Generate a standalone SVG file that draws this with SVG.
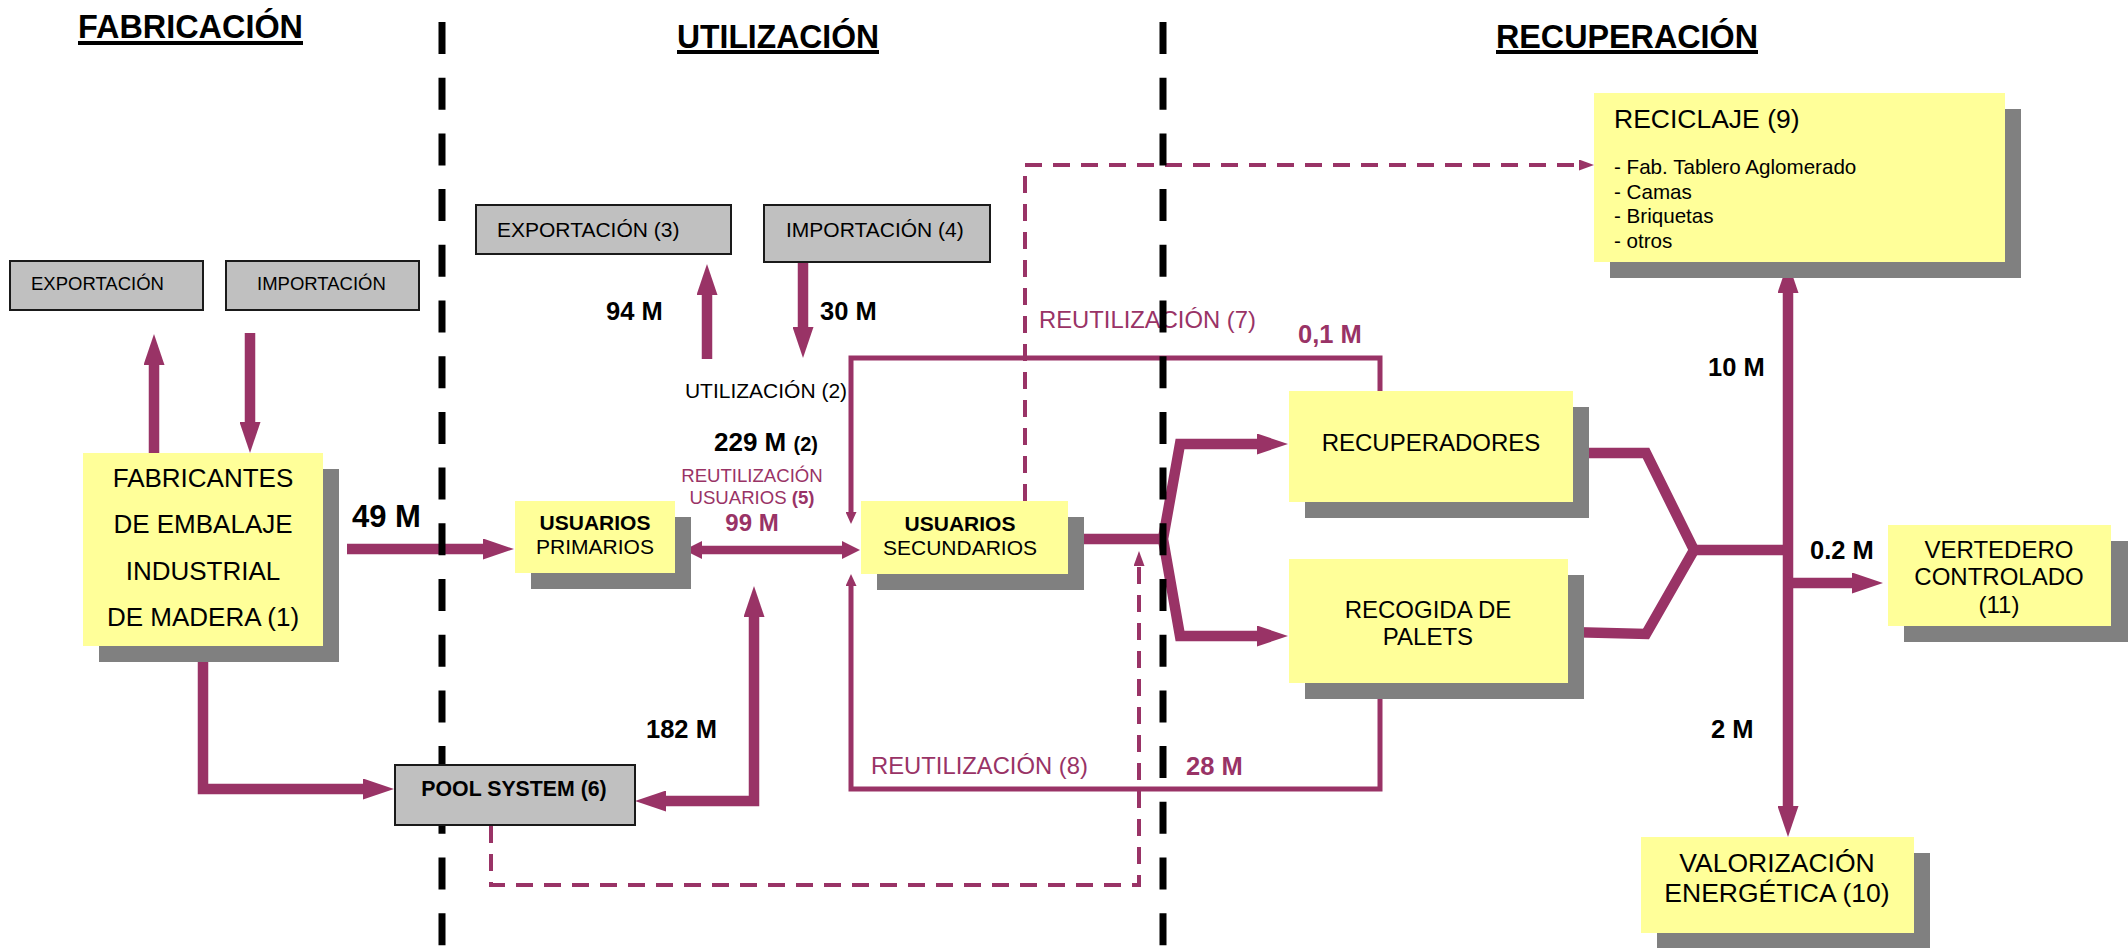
<svg xmlns="http://www.w3.org/2000/svg" width="2128" height="948" viewBox="0 0 2128 948">
<style>
text{font-family:"Liberation Sans",Arial,sans-serif;fill:#000}
.b{font-weight:bold}
.p{fill:#993366}
.hdr{font-size:33px;font-weight:bold}
.lab{font-size:25.5px;font-weight:bold}
.yb{fill:#FFFF99}
.sh{fill:#808080}
.gb{fill:#C0C0C0;stroke:#1a1a1a;stroke-width:2}
.thick{fill:none;stroke:#993366;stroke-width:10.5;stroke-linejoin:miter}
.thin{fill:none;stroke:#993366;stroke-width:5}
.dash{fill:none;stroke:#993366;stroke-width:4;stroke-dasharray:17 11}
.sep{stroke:#000;stroke-width:7;stroke-dasharray:32 23.7}
</style>
<defs>
<marker id="ah" markerUnits="userSpaceOnUse" markerWidth="31" markerHeight="21" viewBox="0 0 31 21" refX="0" refY="10.5" orient="auto-start-reverse"><path d="M0,0 L31,10.5 L0,21 z" fill="#993366"/></marker>
<marker id="am" markerUnits="userSpaceOnUse" markerWidth="18" markerHeight="18" viewBox="0 0 18 18" refX="0" refY="9" orient="auto-start-reverse"><path d="M0,0 L18,9 L0,18 z" fill="#993366"/></marker>
<marker id="as" markerUnits="userSpaceOnUse" markerWidth="12" markerHeight="11" viewBox="0 0 12 11" refX="0" refY="5.5" orient="auto"><path d="M0,0 L12,5.5 L0,11 z" fill="#993366"/></marker>
<marker id="ad" markerUnits="userSpaceOnUse" markerWidth="15" markerHeight="11" viewBox="0 0 15 11" refX="0" refY="5.5" orient="auto"><path d="M0,0 L15,5.5 L0,11 z" fill="#993366"/></marker>
</defs>
<rect width="2128" height="948" fill="#fff"/>

<g id="headers">
<text class="hdr" x="78" y="38" textLength="225" lengthAdjust="spacingAndGlyphs">FABRICACIÓN</text>
<rect x="78" y="41" width="225" height="4"/>
<text class="hdr" x="677" y="48" textLength="202" lengthAdjust="spacingAndGlyphs">UTILIZACIÓN</text>
<rect x="677" y="50" width="202" height="4"/>
<text class="hdr" x="1496" y="48" textLength="262" lengthAdjust="spacingAndGlyphs">RECUPERACIÓN</text>
<rect x="1496" y="50" width="262" height="4"/>
</g>

<g id="connectors">
<path class="thick" d="M154,453 V365" marker-end="url(#ah)"/>
<path class="thick" d="M250,333 V422" marker-end="url(#ah)"/>
<path class="thick" d="M347,549 H483" marker-end="url(#ah)"/>
<path class="thick" d="M203,646 V789 H363" marker-end="url(#ah)"/>
<path class="thick" d="M707,359 V295" marker-end="url(#ah)"/>
<path class="thick" d="M803,263 V327" marker-end="url(#ah)"/>
<path class="thick" d="M666,801 H754 V617" marker-start="url(#ah)" marker-end="url(#ah)"/>
<path class="thick" style="stroke-width:8.5" d="M702,550 H842" marker-start="url(#am)" marker-end="url(#am)"/>
<path class="thick" d="M1084,539 H1163"/>
<path class="thick" d="M1257,444 H1180 L1163,539 L1180,636 H1257" marker-start="url(#ah)" marker-end="url(#ah)"/>
<path class="thick" d="M1573,453 H1646 L1694,550 L1646,634 L1568,632"/>
<path class="thick" d="M1694,550 H1788"/>
<path class="thick" d="M1788,293 V806" marker-start="url(#ah)" marker-end="url(#ah)"/>
<path class="thick" d="M1788,583 H1852" marker-end="url(#ah)"/>
<path class="thin" d="M1380,391 V358 H851 V512" marker-end="url(#as)"/>
<path class="thin" d="M1380,683 V789 H851 V586" marker-end="url(#as)"/>
<path class="dash" d="M1025,501 V165 H1579" marker-end="url(#ad)"/>
<path class="dash" d="M491,826 V885 H1139 V566" marker-end="url(#ad)"/>

<text class="lab" x="606" y="320">94 M</text>
<text class="lab" x="820" y="320">30 M</text>
<text x="766" y="398" font-size="21" text-anchor="middle">UTILIZACIÓN (2)</text>
<text x="714" y="451" class="b" font-size="26">229 M <tspan font-size="20">(2)</tspan></text>
<text class="p" x="752" y="482" font-size="18.6" text-anchor="middle">REUTILIZACIÓN</text>
<text class="p" x="752" y="504" font-size="18.6" text-anchor="middle">USUARIOS <tspan class="b">(5)</tspan></text>
<text class="p b" x="752" y="531" font-size="24" text-anchor="middle">99 M</text>
<text class="b" x="352" y="527" font-size="31">49 M</text>
<text class="lab" x="646" y="738">182 M</text>
<text class="p" x="1039" y="328" font-size="23.8">REUTILIZACIÓN (7)</text>
<text class="p b" x="1298" y="343" font-size="25.5">0,1 M</text>
<text class="p" x="871" y="774" font-size="23.8">REUTILIZACIÓN (8)</text>
<text class="p b" x="1186" y="775" font-size="25.5">28 M</text>
<text class="lab" x="1708" y="376">10 M</text>
<text class="lab" x="1810" y="559">0.2 M</text>
<text class="lab" x="1711" y="738">2 M</text>
</g>

<g id="separators">
<line class="sep" x1="442" y1="22" x2="442" y2="948"/>
<line class="sep" x1="1163" y1="22" x2="1163" y2="948"/>
</g>

<g id="n-export-fab">
<rect class="gb" x="10" y="261" width="193" height="49"/>
<text x="31" y="290" font-size="18.5">EXPORTACIÓN</text>
</g>
<g id="n-import-fab">
<rect class="gb" x="226" y="261" width="193" height="49"/>
<text x="257" y="290" font-size="18.5">IMPORTACIÓN</text>
</g>
<g id="n-export3">
<rect class="gb" x="476" y="205" width="255" height="49"/>
<text x="497" y="237" font-size="21">EXPORTACIÓN (3)</text>
</g>
<g id="n-import4">
<rect class="gb" x="764" y="205" width="226" height="57"/>
<text x="786" y="237" font-size="21">IMPORTACIÓN (4)</text>
</g>
<g id="n-pool">
<rect class="gb" x="395" y="765" width="240" height="60"/>
<text class="b" x="514" y="796" font-size="21.3" text-anchor="middle">POOL SYSTEM (6)</text>
</g>
<g id="n-fabricantes">
<rect class="sh" x="99" y="469" width="240" height="193"/>
<rect class="yb" x="83" y="453" width="240" height="193"/>
<text font-size="26" text-anchor="middle"><tspan x="203" y="487">FABRICANTES</tspan><tspan x="203" y="533">DE EMBALAJE</tspan><tspan x="203" y="580">INDUSTRIAL</tspan><tspan x="203" y="626">DE MADERA (1)</tspan></text>
</g>
<g id="n-primarios">
<rect class="sh" x="531" y="517" width="160" height="72"/>
<rect class="yb" x="515" y="501" width="160" height="72"/>
<text font-size="21" text-anchor="middle"><tspan class="b" x="595" y="530">USUARIOS</tspan><tspan x="595" y="554">PRIMARIOS</tspan></text>
</g>
<g id="n-secundarios">
<rect class="sh" x="877" y="517" width="207" height="73"/>
<rect class="yb" x="861" y="501" width="207" height="73"/>
<text font-size="21" text-anchor="middle"><tspan class="b" x="960" y="531">USUARIOS</tspan><tspan x="960" y="555">SECUNDARIOS</tspan></text>
</g>
<g id="n-recuperadores">
<rect class="sh" x="1305" y="407" width="284" height="111"/>
<rect class="yb" x="1289" y="391" width="284" height="111"/>
<text x="1431" y="451" font-size="24" text-anchor="middle">RECUPERADORES</text>
</g>
<g id="n-recogida">
<rect class="sh" x="1305" y="575" width="279" height="124"/>
<rect class="yb" x="1289" y="559" width="279" height="124"/>
<text font-size="24" text-anchor="middle"><tspan x="1428" y="618">RECOGIDA DE</tspan><tspan x="1428" y="645">PALETS</tspan></text>
</g>
<g id="n-reciclaje">
<rect class="sh" x="1610" y="109" width="411" height="169"/>
<rect class="yb" x="1594" y="93" width="411" height="169"/>
<text x="1614" y="128" font-size="26.5">RECICLAJE (9)</text>
<text font-size="20.6"><tspan x="1614" y="174">- Fab. Tablero Aglomerado</tspan><tspan x="1614" y="199">- Camas</tspan><tspan x="1614" y="223">- Briquetas</tspan><tspan x="1614" y="248">- otros</tspan></text>
</g>
<g id="n-vertedero">
<rect class="sh" x="1904" y="541" width="224" height="101"/>
<rect class="yb" x="1888" y="525" width="223" height="101"/>
<text font-size="24" text-anchor="middle"><tspan x="1999" y="558">VERTEDERO</tspan><tspan x="1999" y="585">CONTROLADO</tspan><tspan x="1999" y="613">(11)</tspan></text>
</g>
<g id="n-valorizacion">
<rect class="sh" x="1657" y="853" width="273" height="96"/>
<rect class="yb" x="1641" y="837" width="273" height="96"/>
<text font-size="26.5" text-anchor="middle"><tspan x="1777" y="872">VALORIZACIÓN</tspan><tspan x="1777" y="902">ENERGÉTICA (10)</tspan></text>
</g>
</svg>
